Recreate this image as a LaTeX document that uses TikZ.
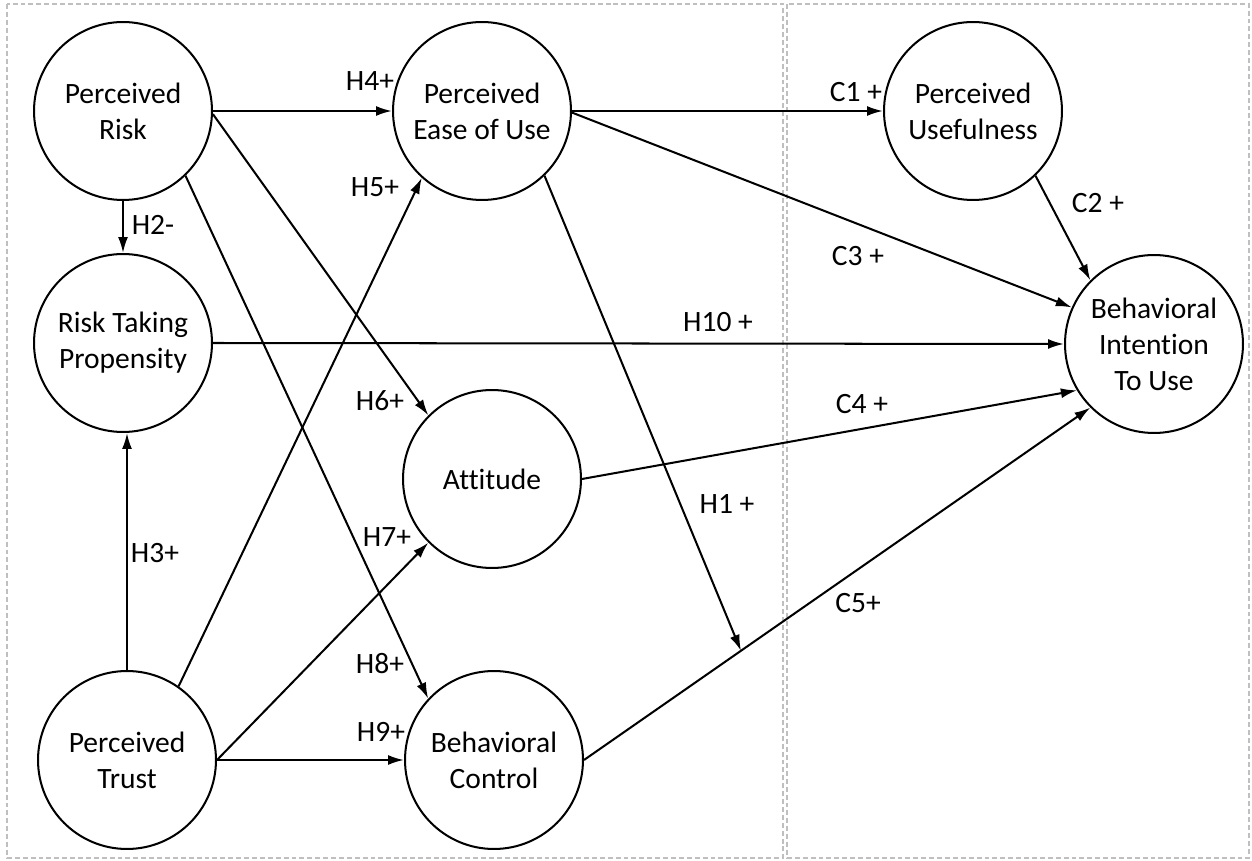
\documentclass[tikz,border=0pt]{standalone}
\usepackage{fontspec}
\setmainfont[Ligatures=NoCommon]{Carlito}
\usetikzlibrary{arrows.meta,calc}

\begin{document}
\begin{tikzpicture}[
    x=0.02cm, y=-0.02cm,
    construct/.style={circle, draw, line width=1.15pt, minimum size=3.56cm, inner sep=0pt,
        align=center, text=black, font=\fontsize{16.8}{20.5}\selectfont},
    hyp/.style={inner sep=0pt, text=black, font=\fontsize{16.8}{20.5}\selectfont},
    link/.style={line width=1.15pt, -{Latex[length=0.32cm, width=0.2cm]}},
    frame/.style={draw=gray!50, line width=0.8pt, dash pattern=on 2.8pt off 1.7pt}
]

\useasboundingbox (0,0) rectangle (1252,861);
\draw [frame] (7,4) rectangle (783,858);
\draw [frame] (787,4) rectangle (1249,858);

\node [construct] (PR)   at (123,111) {Perceived\\Risk};
\node [construct] (RTP)  at (123,343) {Risk Taking\\Propensity};
\node [construct] (PT)   at (127,760) {Perceived\\Trust};
\node [construct] (PEOU) at (482,111) {Perceived\\Ease of Use};
\node [construct] (ATT)  at (492,479) {Attitude};
\node [construct] (BC)   at (494,760) {Behavioral\\Control};
\node [construct] (PU)   at (973,111) {Perceived\\Usefulness};
\node [construct] (BI)   at (1154,344) {Behavioral\\Intention\\To Use};

\coordinate (mod) at ($(BC.east)!0.31!(BI.225)$);

\draw [link] (PR.east) -- (PEOU.west);
\draw [link] (PR.south) -- (RTP.south |- RTP.north);
\draw [link] (PR.-2) -- (ATT.135);
\draw [link] (PR.-46) -- (BC.137);
\draw [link] (PT.north) -- (PT.north |- RTP.south);
\draw [link] (PT.55) -- (PEOU.228);
\draw [link] (PT.east) -- (ATT.225);
\draw [link] (PT.east) -- (BC.west);
\draw [link] (PEOU.east) -- (PU.west);
\draw [link] (PEOU.-1) -- (BI.156);
\draw [link] (PEOU.-46) -- (mod);
\draw [link] (PU.-46) -- (BI.135);
\draw [link] (RTP.east) -- (BI.west);
\draw [link] (ATT.east) -- (BI.211);
\draw [link] (BC.east) -- (BI.225);

\node [hyp] (h1)  at (727,504) {H1 +};
\node [hyp] (h2)  at (153,225) {H2-};
\node [hyp] (h3)  at (155,553) {H3+};
\node [hyp] (h4)  at (370,81)  {H4+};
\node [hyp] (h5)  at (375,187) {H5+};
\node [hyp] (h6)  at (380,401) {H6+};
\node [hyp] (h7)  at (387,537) {H7+};
\node [hyp] (h8)  at (380,664) {H8+};
\node [hyp] (h9)  at (381,732) {H9+};
\node [hyp] (h10) at (718,322) {H10 +};
\node [hyp] (c1)  at (856,92)  {C1 +};
\node [hyp] (c2)  at (1098,203) {C2 +};
\node [hyp] (c3)  at (858,256) {C3 +};
\node [hyp] (c4)  at (862,404) {C4 +};
\node [hyp] (c5)  at (858,603) {C5+};

\end{tikzpicture}
\end{document}
